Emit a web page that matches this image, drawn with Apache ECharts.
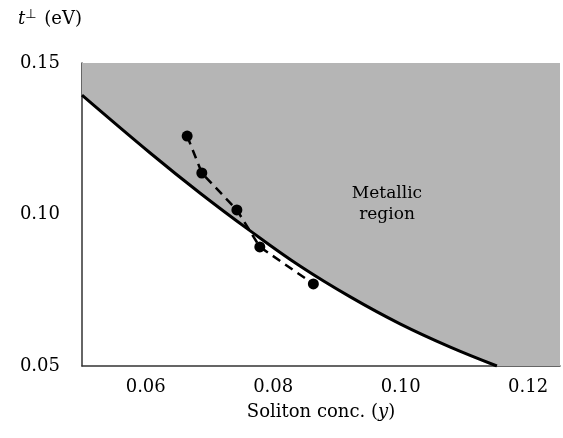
<!DOCTYPE html>
<html>
<head>
<meta charset="utf-8">
<script src="https://cdn.jsdelivr.net/npm/echarts@6/dist/echarts.min.js"></script>
<style>html,body{margin:0;padding:0;background:#fff}#c{width:563px;height:438px}</style>
</head>
<body>
<div id="c"></div>
<script>
// Boundary curve (x = soliton conc., y = t_perp in eV)
var curveX = [0.050, 0.0607, 0.0685, 0.0764, 0.0842, 0.0921, 0.0999, 0.1077, 0.1151];
var curveY = [0.1394, 0.1203, 0.1071, 0.0946, 0.0830, 0.0728, 0.0639, 0.0563, 0.0500];
// Data points (dashed)
var dotsX = [0.0665, 0.0688, 0.0743, 0.0779, 0.0863];
var dotsY = [0.1259, 0.1137, 0.1015, 0.0893, 0.0771];
var xTicks = [0.06, 0.08, 0.10, 0.12];
var xRange = [0.05, 0.125];
var yRange = [0.05, 0.15];
var regionLabel = 'Metallic\nregion';

var curve = curveX.map(function (x, i) { return [x, curveY[i]]; });
var dots = dotsX.map(function (x, i) { return [x, dotsY[i]]; });
var FONT = 'DejaVu Serif';
var GRAY = '#b5b5b5';

var chart = echarts.init(document.getElementById('c'), null, {renderer: 'canvas'});
chart.setOption({
  animation: false,
  backgroundColor: '#fff',
  grid: {left: 82, right: 3, top: 63, bottom: 72},
  xAxis: {
    type: 'value', min: xRange[0], max: xRange[1],
    axisLine: {show: true, lineStyle: {color: '#333', width: 1.5}},
    axisTick: {show: false},
    splitLine: {show: false},
    axisLabel: {customValues: xTicks, formatter: function (v) { return v.toFixed(2); },
      fontFamily: FONT, fontSize: 18, color: '#000', margin: 12},
    name: 'Soliton conc. ({i|y})', nameLocation: 'middle', nameGap: 37,
    nameTextStyle: {fontFamily: FONT, fontSize: 18, color: '#000',
      rich: {i: {fontFamily: FONT, fontStyle: 'italic', fontSize: 18, color: '#000'}}}
  },
  yAxis: {
    type: 'value', min: yRange[0], max: yRange[1], interval: 0.05,
    axisLine: {show: true, lineStyle: {color: '#333', width: 1.5}},
    axisTick: {show: false},
    splitLine: {show: false},
    axisLabel: {formatter: function (v) { return v.toFixed(2); },
      fontFamily: FONT, fontSize: 18, color: '#000', margin: 22, padding: [4, 0, 0, 0]},
    name: '{i|t}{s|⊥} (eV)', nameLocation: 'end', nameGap: 32,
    nameTextStyle: {fontFamily: FONT, fontSize: 18, color: '#000', align: 'right',
      rich: {i: {fontFamily: FONT, fontStyle: 'italic', fontSize: 18, color: '#000'},
             s: {fontFamily: 'DejaVu Sans', fontSize: 13, color: '#000', verticalAlign: 'top', padding: [0, 2, 10, 0]}}}
  },
  series: [
    {
      type: 'line', data: curve, smooth: 0.4, showSymbol: false, z: 3,
      lineStyle: {color: '#000', width: 3},
      areaStyle: {color: GRAY, opacity: 1, origin: 'end'},
      markArea: {silent: true, itemStyle: {color: GRAY, opacity: 1},
        data: [[{xAxis: curveX[curveX.length - 1] - 0.0005}, {xAxis: xRange[1]}]]}
    },
    {
      type: 'line', data: dots, smooth: false, z: 4,
      symbol: 'circle', symbolSize: 11,
      itemStyle: {color: '#000'},
      lineStyle: {color: '#000', width: 2.5, type: [9, 6]}
    }
  ],
  graphic: [{
    type: 'text', x: 387, y: 183, z: 10,
    style: {text: regionLabel, fontFamily: FONT, fontSize: 17, fill: '#000', align: 'center', lineHeight: 21}
  }]
});
</script>
</body>
</html>
